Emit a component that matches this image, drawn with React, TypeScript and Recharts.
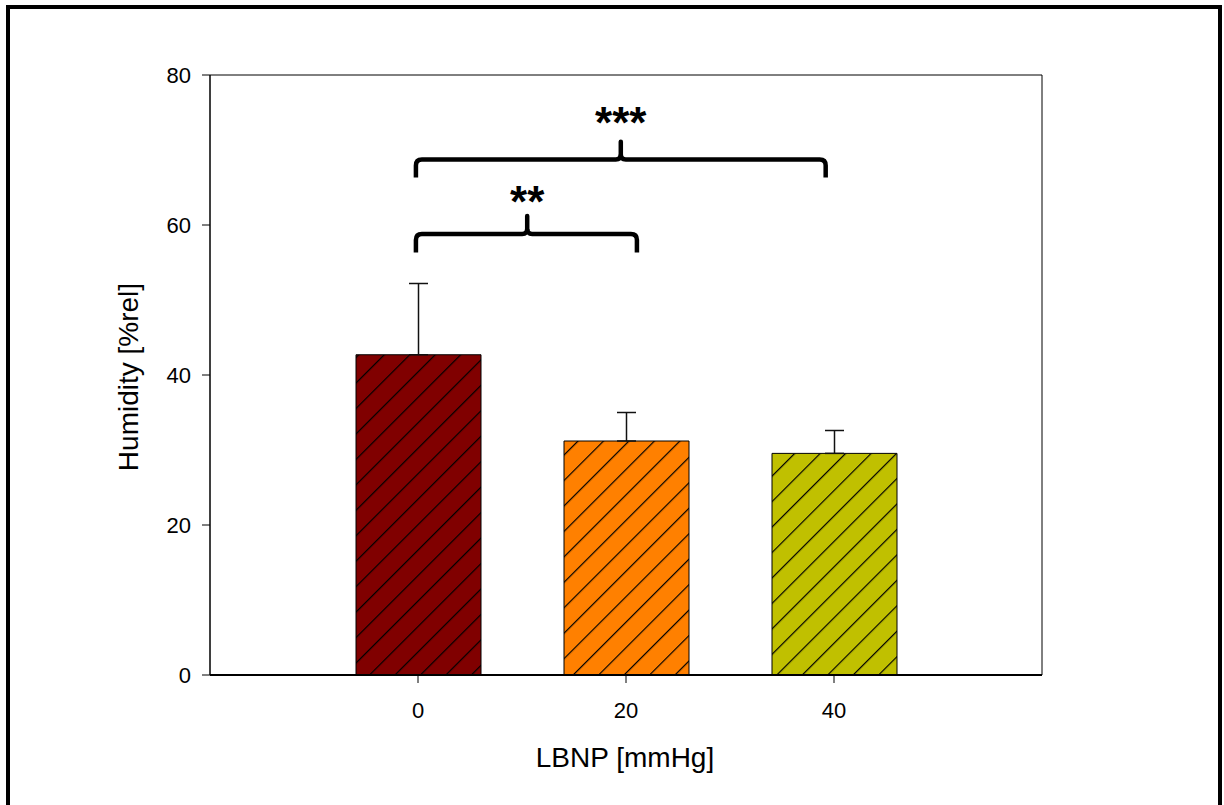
import { Bar, BarChart, Cell, ErrorBar, Label, ReferenceArea, ReferenceDot, XAxis, YAxis } from 'recharts';

const lbnp = [0, 20, 40];
const humidity = [42.7, 31.2, 29.55];
const humiditySd = [9.5, 3.8, 3.05];
const barColors = ['#800000', '#ff8000', '#c0c000'];
const xTicks = [0, 20, 40];
const yTicks = [0, 20, 40, 60, 80];

// significance braces: from/to/peak on the LBNP axis, low/level/top on the humidity axis
const braceFrom = [-0.2, -0.2];
const braceTo = [21.05, 39.2];
const bracePeak = [10.5, 19.5];
const braceLow = [56.35, 66.35];
const braceLevel = [58.8, 68.75];
const braceTop = [61.5, 71.4];
const braceLabels = ['**', '***'];
const braceLabelY = [63.2, 73.7];

const data = lbnp.map((x, i) => ({
  lbnp: x,
  humidity: humidity[i],
  err: [0, humiditySd[i]],
}));

const braces = braceLabels.map((label, i) => ({
  from: braceFrom[i],
  to: braceTo[i],
  peak: bracePeak[i],
  low: braceLow[i],
  level: braceLevel[i],
  top: braceTop[i],
  label,
  labelY: braceLabelY[i],
}));

type Brace = (typeof braces)[number];

function BraceShape(props: any) {
  const { x, y, width, height, brace } = props as { x: number; y: number; width: number; height: number; brace: Brace };
  const bottom = y + height;
  const ly = y + (height * (brace.top - brace.level)) / (brace.top - brace.low);
  const px = x + (width * (brace.peak - brace.from)) / (brace.to - brace.from);
  const right = x + width;
  const r = 6;
  const d = [
    `M${x},${bottom}`,
    `L${x},${ly + r}`,
    `Q${x},${ly} ${x + r},${ly}`,
    `L${px - 5},${ly}`,
    `Q${px},${ly} ${px},${ly - 5}`,
    `Q${px},${ly} ${px + 5},${ly}`,
    `L${right - r},${ly}`,
    `Q${right},${ly} ${right},${ly + r}`,
    `L${right},${bottom}`,
  ].join(' ');
  return (
    <g>
      <path d={d} fill="none" stroke="#000" strokeWidth={4.5} />
      <path d={`M${px},${ly - 3} L${px},${y + 2.2}`} fill="none" stroke="#000" strokeWidth={4.5} strokeLinecap="round" />
    </g>
  );
}

export default function App() {
  return (
    <div style={{ position: 'absolute', left: 0, top: 0, width: 1224, height: 805, overflow: 'hidden', background: '#fff' }}>
      <div
        style={{
          position: 'absolute',
          left: 6,
          top: 5,
          width: 1216,
          height: 900,
          boxSizing: 'border-box',
          border: '4px solid #000',
          borderBottom: 'none',
        }}
      />
      <div style={{ position: 'absolute', left: 0, top: 0, fontFamily: 'Arial, "Liberation Sans", sans-serif' }}>
        <BarChart width={1224} height={805} data={data} margin={{ top: 75, right: 182, bottom: 70, left: 0 }}>
          <defs>
            {barColors.map((color, i) => (
              <pattern
                key={color}
                id={`hatch-${i}`}
                patternUnits="userSpaceOnUse"
                width={18}
                height={18}
                patternTransform="rotate(45)"
              >
                <rect width={18} height={18} fill={color} />
                <line x1={0.6} y1={0} x2={0.6} y2={18} stroke="#000" strokeWidth={1.2} />
              </pattern>
            ))}
          </defs>
          <XAxis
            type="number"
            dataKey="lbnp"
            domain={[-20, 60]}
            ticks={xTicks}
            interval={0}
            height={60}
            tickSize={8}
            tickMargin={19}
            stroke="#000"
            axisLine={{ stroke: '#000', strokeWidth: 2 }}
            tick={{ fill: '#000', fontSize: 22 }}
          >
            <Label
              content={(p: any) => {
                const vb = p.viewBox ?? { x: 210, y: 675, width: 832, height: 60 };
                return (
                  <text x={vb.x + vb.width / 2 - 1} y={vb.y + 92} textAnchor="middle" fontSize={28} fill="#000">
                    LBNP [mmHg]
                  </text>
                );
              }}
            />
          </XAxis>
          <YAxis
            domain={[0, 80]}
            ticks={yTicks}
            interval={0}
            width={210}
            tickSize={8}
            tickMargin={11}
            stroke="#000"
            tick={{ fill: '#000', fontSize: 22 }}
          >
            <Label
              content={(p: any) => {
                const vb = p.viewBox ?? { x: 0, y: 75, width: 210, height: 600 };
                const lx = vb.x + 138;
                const ly = vb.y + vb.height / 2 + 2;
                return (
                  <text x={lx} y={ly} textAnchor="middle" fontSize={28} fill="#000" transform={`rotate(-90, ${lx}, ${ly})`}>
                    Humidity [%rel]
                  </text>
                );
              }}
            />
          </YAxis>
          <Bar dataKey="humidity" barSize={125} stroke="#000" strokeWidth={1} isAnimationActive={false}>
            {data.map((entry, i) => (
              <Cell key={entry.lbnp} fill={`url(#hatch-${i})`} />
            ))}
            <ErrorBar dataKey="err" direction="y" width={9.5} stroke="#111" strokeWidth={1.5} isAnimationActive={false} />
          </Bar>
          <ReferenceArea y1={0} y2={80} fill="none" stroke="#000" strokeWidth={1} ifOverflow="visible" />
          {braces.map((b) => (
            <ReferenceArea
              key={b.label}
              x1={b.from}
              x2={b.to}
              y1={b.low}
              y2={b.top}
              ifOverflow="visible"
              shape={(p: any) => <BraceShape {...p} brace={b} />}
            />
          ))}
          {braces.map((b) => (
            <ReferenceDot
              key={`lbl-${b.label}`}
              x={b.peak}
              y={b.labelY}
              r={1}
              fill="none"
              stroke="none"
              ifOverflow="visible"
              label={{ value: b.label, position: 'center', fontSize: 44, fontWeight: 'bold', fill: '#000' }}
            />
          ))}
        </BarChart>
      </div>
    </div>
  );
}
